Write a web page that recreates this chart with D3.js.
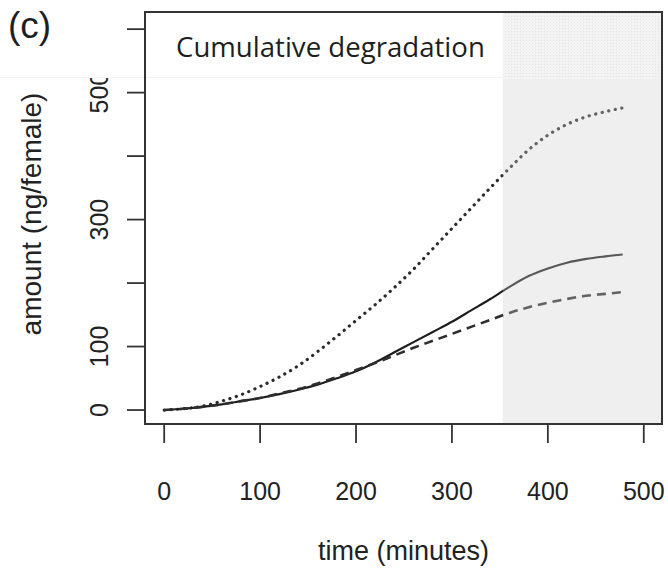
<!DOCTYPE html>
<html>
<head>
<meta charset="utf-8">
<script src="https://cdn.jsdelivr.net/npm/d3@7"></script>
<style>
  body { margin: 0; background: #fff; }
  svg { display: block; }
</style>
</head>
<body>
<div id="my_dataviz"></div>
<script>
// data (time in minutes, amount in ng/female)
var times = [0, 20, 40, 60, 80, 100, 120, 140, 160, 180, 200, 220, 240, 260, 280, 300, 320, 340, 360, 380, 400, 420, 440, 460, 478]
var solidValues = [0, 2, 5, 9, 14, 19, 25, 32, 40, 50, 61, 75, 91, 107, 123, 139, 157, 175, 194, 211, 223, 232, 238, 242, 245]
var dashedValues = [0, 2, 5, 9, 14, 19, 26, 33, 42, 52, 63, 74, 86, 98, 109, 120, 131, 142, 153, 162, 169, 175, 180, 183, 186]
var dottedValues = [0, 2, 6, 14, 24, 37, 52, 70, 92, 116, 141, 166, 193, 222, 254, 286, 318, 350, 381, 410, 433, 450, 462, 470, 476]
var xTicks = [0, 100, 200, 300, 400, 500]
var yTicks = [0, 100, 200, 300, 400, 500, 600]
var yTickLabels = ["0", "100", "", "300", "", "500", ""]
var shadeStart = 353   // start of the grey period

var width = 668
var height = 572
var box = {left: 145, top: 12, right: 662, bottom: 424}
var bandBottom = 79   // lower edge of the pasted title strip

var svg = d3.select("#my_dataviz")
  .append("svg")
    .attr("width", width)
    .attr("height", height)

var defs = svg.append("defs")

// fine dot texture seen in the top strip of the grey area
var pat = defs.append("pattern")
    .attr("id", "speckle")
    .attr("width", 3)
    .attr("height", 3)
    .attr("patternUnits", "userSpaceOnUse")
pat.append("rect").attr("width", 3).attr("height", 3).attr("fill", "#f3f3f3")
pat.append("rect").attr("x", 1).attr("y", 1).attr("width", 1).attr("height", 1).attr("fill", "#e2e2e2")

// tick labels above the strip edge are cut off in the figure
defs.append("clipPath")
    .attr("id", "labelclip")
  .append("rect")
    .attr("x", 0).attr("y", 78).attr("width", box.left).attr("height", height)

// scales (R style: 4% padding around the ranges)
var x = d3.scaleLinear()
  .domain([-20, 519])
  .range([box.left, box.right])

var y = d3.scaleLinear()
  .domain([-22, 627])
  .range([box.bottom, box.top])

var rows = times.map(function(t, i) {
  return {t: t, solid: solidValues[i], dashed: dashedValues[i], dotted: dottedValues[i]}
})

function lineFor(key) {
  return d3.line()
    .x(function(d) { return x(d.t) })
    .y(function(d) { return y(d[key]) })
    .curve(d3.curveMonotoneX)
}

var series = [
  {key: "dotted", stroke: "#2a2a2a", width: 3.2, dash: "0.1,6.6", cap: "round"},
  {key: "solid", stroke: "#1e1e1e", width: 2.2, dash: null, cap: "butt"},
  {key: "dashed", stroke: "#2e2e2e", width: 2.6, dash: "9,6", cap: "butt"}
]

var g = svg.append("g")

g.selectAll(".series")
  .data(series)
  .enter()
  .append("path")
    .attr("class", "series")
    .attr("d", function(s) { return lineFor(s.key)(rows) })
    .attr("fill", "none")
    .attr("stroke", function(s) { return s.stroke })
    .attr("stroke-width", function(s) { return s.width })
    .attr("stroke-dasharray", function(s) { return s.dash })
    .attr("stroke-linecap", function(s) { return s.cap })

// grey period drawn over the lines, so they look lighter inside it
g.append("rect")
    .attr("x", x(shadeStart))
    .attr("y", bandBottom)
    .attr("width", box.right - x(shadeStart))
    .attr("height", box.bottom - bandBottom)
    .attr("fill", "rgb(206,206,206)")
    .attr("opacity", 0.33)

g.append("rect")
    .attr("x", x(shadeStart))
    .attr("y", box.top)
    .attr("width", box.right - x(shadeStart))
    .attr("height", bandBottom - box.top)
    .attr("fill", "url(#speckle)")

// faint edge of the title strip
svg.append("line")
    .attr("x1", 0).attr("x2", x(shadeStart))
    .attr("y1", 77.5).attr("y2", 77.5)
    .attr("stroke", "#f3f3f3")
    .attr("stroke-width", 1)

// plot box
svg.append("rect")
    .attr("x", box.left)
    .attr("y", box.top)
    .attr("width", box.right - box.left)
    .attr("height", box.bottom - box.top)
    .attr("fill", "none")
    .attr("stroke", "#333")
    .attr("stroke-width", 2)

var tickFont = "'Liberation Sans', Arial, sans-serif"

// x axis ticks and labels
var xAxis = svg.append("g")
xAxis.selectAll("line")
  .data(xTicks)
  .enter()
  .append("line")
    .attr("x1", function(d) { return x(d) })
    .attr("x2", function(d) { return x(d) })
    .attr("y1", box.bottom + 1)
    .attr("y2", box.bottom + 19)
    .attr("stroke", "#333")
    .attr("stroke-width", 1.8)
xAxis.selectAll("text")
  .data(xTicks)
  .enter()
  .append("text")
    .attr("x", function(d) { return x(d) })
    .attr("y", 500)
    .attr("text-anchor", "middle")
    .style("font-family", tickFont)
    .style("font-size", "25px")
    .style("fill", "#222")
    .text(function(d) { return d })

// y axis ticks and rotated labels
var yAxis = svg.append("g")
yAxis.selectAll("line")
  .data(yTicks)
  .enter()
  .append("line")
    .attr("x1", box.left - 18)
    .attr("x2", box.left - 1)
    .attr("y1", function(d) { return y(d) })
    .attr("y2", function(d) { return y(d) })
    .attr("stroke", "#333")
    .attr("stroke-width", 1.8)
yAxis.append("g")
    .attr("clip-path", "url(#labelclip)")
  .selectAll("text")
  .data(yTicks)
  .enter()
  .append("text")
    .attr("transform", function(d) { return "translate(108," + y(d) + ") rotate(-90)" })
    .attr("text-anchor", "middle")
    .style("font-family", tickFont)
    .style("font-size", "25px")
    .style("fill", "#222")
    .text(function(d, i) { return yTickLabels[i] })

// axis titles
svg.append("text")
    .attr("x", (box.left + box.right) / 2)
    .attr("y", 560)
    .attr("text-anchor", "middle")
    .style("font-family", tickFont)
    .style("font-size", "27px")
    .style("fill", "#222")
    .text("time (minutes)")

svg.append("text")
    .attr("transform", "translate(41," + 214 + ") rotate(-90)")
    .attr("text-anchor", "middle")
    .style("font-family", tickFont)
    .style("font-size", "28px")
    .style("fill", "#222")
    .text("amount (ng/female)")

// panel title and letter
var title = svg.append("text")
    .attr("x", 176)
    .attr("y", 57)
    .style("font-family", "'Open Sans', sans-serif")
    .style("font-size", "26px")
    .style("fill", "#1e1e1e")
    .text("Cumulative degradation")
var tw = title.node().getComputedTextLength()
title.style("font-size", (26 * 309 / tw) + "px")

svg.append("text")
    .attr("x", 8)
    .attr("y", 38)
    .style("font-family", tickFont)
    .style("font-size", "37px")
    .style("fill", "#1e1e1e")
    .text("(c)")
</script>
</body>
</html>
